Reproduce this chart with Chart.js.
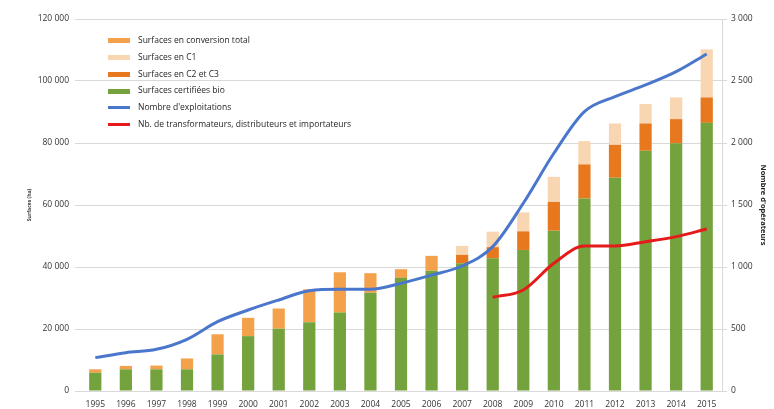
<!DOCTYPE html>
<html lang="fr">
<head>
    <meta charset="UTF-8">
    <title>Surfaces bio et opérateurs</title>
    <script src="https://cdn.jsdelivr.net/npm/chart.js"></script>
    <style>
        body {
            margin: 0;
            background: #ffffff;
            font-family: 'Open Sans', sans-serif;
        }
        .wrap {
            position: relative;
            width: 774px;
            height: 409px;
        }
        .legend {
            position: absolute;
            left: 108px;
            top: 32px;
            font-size: 8.5px;
            color: #1f1f1f;
        }
        .legend div {
            height: 16.8px;
            line-height: 16.8px;
            white-space: nowrap;
        }
        .legend span {
            display: inline-block;
            width: 22px;
            margin-right: 8px;
            vertical-align: middle;
        }
    </style>
</head>
<body>
<div class="wrap">
    <canvas id="chart" width="774" height="409"></canvas>
    <div class="legend">
        <div><span style="height:5px;background:#F4A14C"></span>Surfaces en conversion total</div>
        <div><span style="height:5px;background:#F8D6B2"></span>Surfaces en C1</div>
        <div><span style="height:5px;background:#E8781E"></span>Surfaces en C2 et C3</div>
        <div><span style="height:5px;background:#74A23C"></span>Surfaces certifiées bio</div>
        <div><span style="height:3px;background:#4A77CC"></span>Nombre d'exploitations</div>
        <div><span style="height:3px;background:#E51A1A"></span>Nb. de transformateurs, distributeurs et importateurs</div>
    </div>
</div>

<script>
    const years = ['1995', '1996', '1997', '1998', '1999', '2000', '2001', '2002', '2003', '2004', '2005',
        '2006', '2007', '2008', '2009', '2010', '2011', '2012', '2013', '2014', '2015'];

    // surfaces (ha)
    const bio = [5900, 7000, 7000, 7000, 11800, 17700, 20100, 22200, 25300, 31700, 36500,
        38800, 41200, 42800, 45500, 51700, 62100, 68800, 77500, 79900, 86500];
    const c2c3 = [null, null, null, null, null, null, null, null, null, null, null,
        null, 2700, 3600, 6000, 9300, 11000, 10600, 8800, 7800, 8200];
    const c1 = [null, null, null, null, null, null, null, null, null, null, null,
        null, 2900, 5000, 6100, 8100, 7500, 6900, 6300, 7000, 15500];
    const conversionTotal = [1100, 1100, 1200, 3500, 6500, 5900, 6500, 10600, 13000, 6300, 2800,
        4800, null, null, null, null, null, null, null, null, null];

    // nombre d'opérateurs
    const exploitations = [269, 309, 336, 417, 559, 653, 734, 809, 820, 820, 868,
        935, 1008, 1164, 1514, 1917, 2253, 2374, 2468, 2575, 2718];
    const transformateurs = [null, null, null, null, null, null, null, null, null, null, null,
        null, null, 756, 815, 1030, 1169, 1169, 1204, 1245, 1307];

    function fmt(v) {
        return String(v).replace(/\B(?=(\d{3})+(?!\d))/g, ' ');
    }

    const tickFont = { family: "'Open Sans', sans-serif", size: 8.5 };
    const barOpts = { stack: 'surf', yAxisID: 'y', order: 2, barPercentage: 0.8, categoryPercentage: 0.5 };

    new Chart(document.getElementById('chart'), {
        type: 'bar',
        data: {
            labels: years,
            datasets: [
                { label: 'Surfaces certifiées bio', data: bio, backgroundColor: '#74A23C', ...barOpts },
                { label: 'Surfaces en C2 et C3', data: c2c3, backgroundColor: '#E8781E', ...barOpts },
                { label: 'Surfaces en C1', data: c1, backgroundColor: '#F8D6B2', ...barOpts },
                { label: 'Surfaces en conversion total', data: conversionTotal, backgroundColor: '#F4A14C', ...barOpts },
                {
                    type: 'line', label: "Nombre d'exploitations", data: exploitations, yAxisID: 'y1', order: 1,
                    borderColor: '#4A77CC', borderWidth: 3, pointRadius: 0, cubicInterpolationMode: 'monotone'
                },
                {
                    type: 'line', label: 'Nb. de transformateurs, distributeurs et importateurs', data: transformateurs,
                    yAxisID: 'y1', order: 0, borderColor: '#E51A1A', borderWidth: 3, pointRadius: 0,
                    cubicInterpolationMode: 'monotone'
                }
            ]
        },
        options: {
            responsive: false,
            animation: false,
            layout: { padding: { top: 19, left: 0, right: 0, bottom: 0 } },
            plugins: {
                legend: { display: false },
                tooltip: { enabled: false }
            },
            scales: {
                x: {
                    stacked: true,
                    grid: { display: false },
                    border: { color: '#d9d9d9' },
                    ticks: { font: tickFont, color: '#333333', maxRotation: 0, autoSkip: false, padding: 0 },
                    afterFit: s => { s.height = 18; }
                },
                y: {
                    position: 'left',
                    stacked: true,
                    min: 0,
                    max: 120000,
                    ticks: { stepSize: 20000, font: tickFont, color: '#333333', padding: 6, callback: v => fmt(v) },
                    grid: { color: '#d9d9d9', tickLength: 5 },
                    border: { display: false },
                    title: {
                        display: true, text: 'Surfaces (ha)', color: '#404040',
                        font: { family: "'Open Sans', sans-serif", size: 5, weight: 'bold' },
                        padding: { top: 27, bottom: 0 }
                    },
                    afterFit: s => { s.width = 80; }
                },
                y1: {
                    position: 'right',
                    min: 0,
                    max: 3000,
                    ticks: { stepSize: 500, font: tickFont, color: '#333333', padding: 4, callback: v => fmt(v) },
                    grid: { drawOnChartArea: false, color: '#d9d9d9', tickLength: 5 },
                    border: { color: '#d9d9d9' },
                    title: {
                        display: true, text: "Nombre d'opérateurs", color: '#262626',
                        font: { family: "'Open Sans', sans-serif", size: 7.5, weight: 'bold' },
                        padding: { top: 6, bottom: 0 }
                    },
                    afterFit: s => { s.width = 52; }
                }
            }
        }
    });
</script>
</body>
</html>
